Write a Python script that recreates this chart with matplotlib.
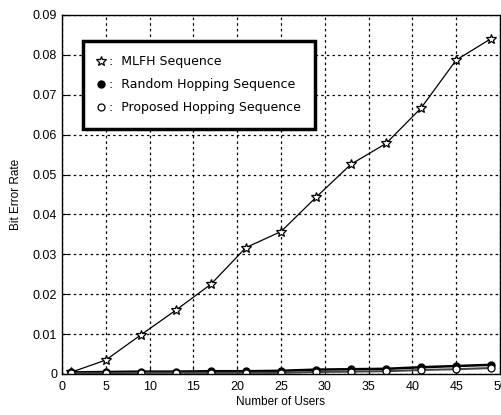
import matplotlib.pyplot as plt

plt.rcParams['font.family'] = ['Liberation Sans', 'DejaVu Sans']

# Data
users = [1, 5, 9, 13, 17, 21, 25, 29, 33, 37, 41, 45, 49]
mlfh = [0.0004, 0.0035, 0.0098, 0.0160, 0.0225, 0.0317, 0.0357,
        0.0443, 0.0526, 0.0578, 0.0667, 0.0787, 0.0841]
random_hop = [0.0004, 0.0005, 0.0006, 0.0006, 0.0007, 0.0007, 0.0008,
              0.0011, 0.0012, 0.0013, 0.0017, 0.0020, 0.0023]
proposed = [0.0002, 0.0002, 0.0003, 0.0003, 0.0003, 0.0003, 0.0003,
            0.0005, 0.0006, 0.0007, 0.0010, 0.0012, 0.0015]
xticks = [0, 5, 10, 15, 20, 25, 30, 35, 40, 45, 50]
yticks = [0, 0.01, 0.02, 0.03, 0.04, 0.05, 0.06, 0.07, 0.08, 0.09]
yticklabels = ["0", "0.01", "0.02", "0.03", "0.04", "0.05", "0.06", "0.07", "0.08", "0.09"]

fig = plt.figure(figsize=(5.02, 4.15), dpi=100)
ax = fig.add_axes([0.1235, 0.0988, 0.8725, 0.8651])

ax.plot(users, mlfh, color="black", linewidth=0.9, marker="*", markersize=7,
        markerfacecolor="white", markeredgecolor="black", markeredgewidth=0.9,
        label=":  MLFH Sequence")
ax.plot(users, random_hop, color="black", linewidth=1.8, marker=".", markersize=10,
        label=":  Random Hopping Sequence")
ax.plot(users, proposed, color="#444444", linewidth=1.5, marker="o", markersize=5,
        markerfacecolor="white", markeredgecolor="black", markeredgewidth=0.9,
        label=":  Proposed Hopping Sequence")

ax.set_xlim(0, 50)
ax.set_ylim(0, 0.09)
ax.set_xticks(xticks)
ax.set_yticks(yticks)
ax.set_yticklabels(yticklabels)
ax.tick_params(direction="in", length=4, width=0.8, labelsize=9, colors="black")
ax.tick_params(axis="x", pad=5)
ax.grid(True, color="black", linestyle=(0, (2, 2.5)), linewidth=0.9)
for s in ax.spines.values():
    s.set_linewidth(1.0)
    s.set_color("black")

ax.set_xlabel("Number of Users", fontsize=8.5, labelpad=2)
ax.set_ylabel("Bit Error Rate", fontsize=8.5, labelpad=8)

leg = ax.legend(loc="upper left", bbox_to_anchor=(0.048, 0.9276),
                prop={"family": "DejaVu Sans", "size": 9},
                handlelength=0.5, handletextpad=0.4, labelspacing=0.8,
                borderpad=1.15, borderaxespad=0, fancybox=False, framealpha=1,
                edgecolor="black")
leg.get_frame().set_linewidth(2.5)
for h in leg.get_lines():
    h.set_linestyle("none")

plt.savefig("out.png", dpi=100)
